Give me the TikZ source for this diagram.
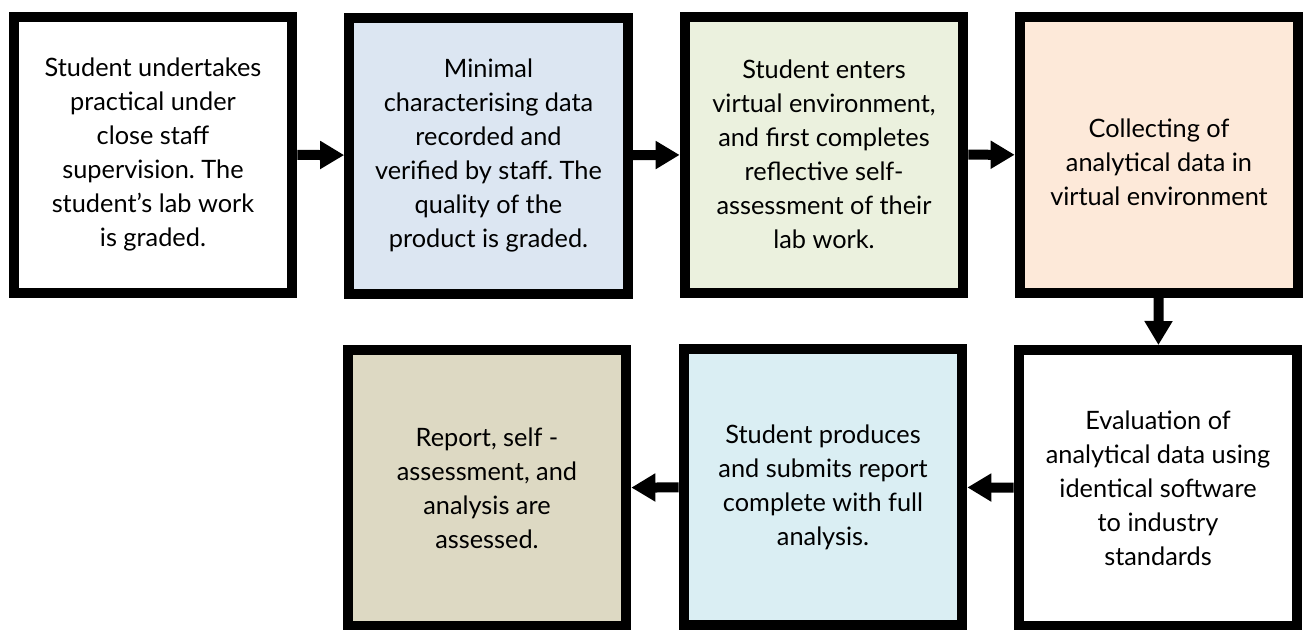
\documentclass[tikz,border=0pt]{standalone}
\usepackage{fontspec}
\setmainfont{Lato}
\usetikzlibrary{arrows.meta,positioning}
\frenchspacing
\definecolor{paleblue}{HTML}{DCE6F2}
\definecolor{palegreen}{HTML}{EBF1DE}
\definecolor{palepeach}{HTML}{FDE9D9}
\definecolor{paleaqua}{HTML}{DAEEF3}
\definecolor{paletan}{HTML}{DDD9C3}
\tikzset{
  stage/.style = {draw=black, line width=7.5pt, fill=white, minimum width=209pt,
                  minimum height=207pt, inner sep=0pt, align=center,
                  font=\fontsize{19}{25.5}\selectfont},
  flow/.style  = {line width=7.5pt, -{Triangle[length=18pt,width=20pt]}},
}
\begin{document}
\begin{tikzpicture}[x=0.75pt,y=-0.75pt]
  \useasboundingbox (0,0) rectangle (1304,629);
  % top row, left to right
  \node[stage] (practical) at (153,154.5)
    {Student undertakes\\practical under\\close staff\\supervision. The\\student’s lab work\\is graded.};
  \node[stage,fill=paleblue] (datarec) at (488.5,155.5)
    {Minimal\\characterising data\\recorded and\\verified by staff. The\\quality of the\\product is graded.};
  \node[stage,fill=palegreen] (selfassess) at (824,154.5)
    {Student enters\\virtual environment,\\and first completes\\reflective self-\\assessment of their\\lab work.};
  \node[stage,fill=palepeach] (collect) at (1159,155)
    {\mbox{}\\Collecting of\\analytical data in\\virtual environment};
  % bottom row, right to left
  \node[stage] (evaluate) at (1158,488)
    {Evaluation of\\analytical data using\\identical software\\to industry\\standards};
  \node[stage,fill=paleaqua] (produce) at (823,487)
    {Student produces\\and submits report\\complete with full\\analysis.};
  \node[stage,fill=paletan] (assessed) at (487,488)
    {Report, self -\\assessment, and\\analysis are\\assessed.};
  % connectors
  \draw[flow] (practical) -- (datarec);
  \draw[flow] (datarec) -- (selfassess);
  \draw[flow] (selfassess) -- (collect);
  \draw[flow] (collect) -- (evaluate);
  \draw[flow] (evaluate) -- (produce);
  \draw[flow] (produce) -- (assessed);
\end{tikzpicture}
\end{document}
